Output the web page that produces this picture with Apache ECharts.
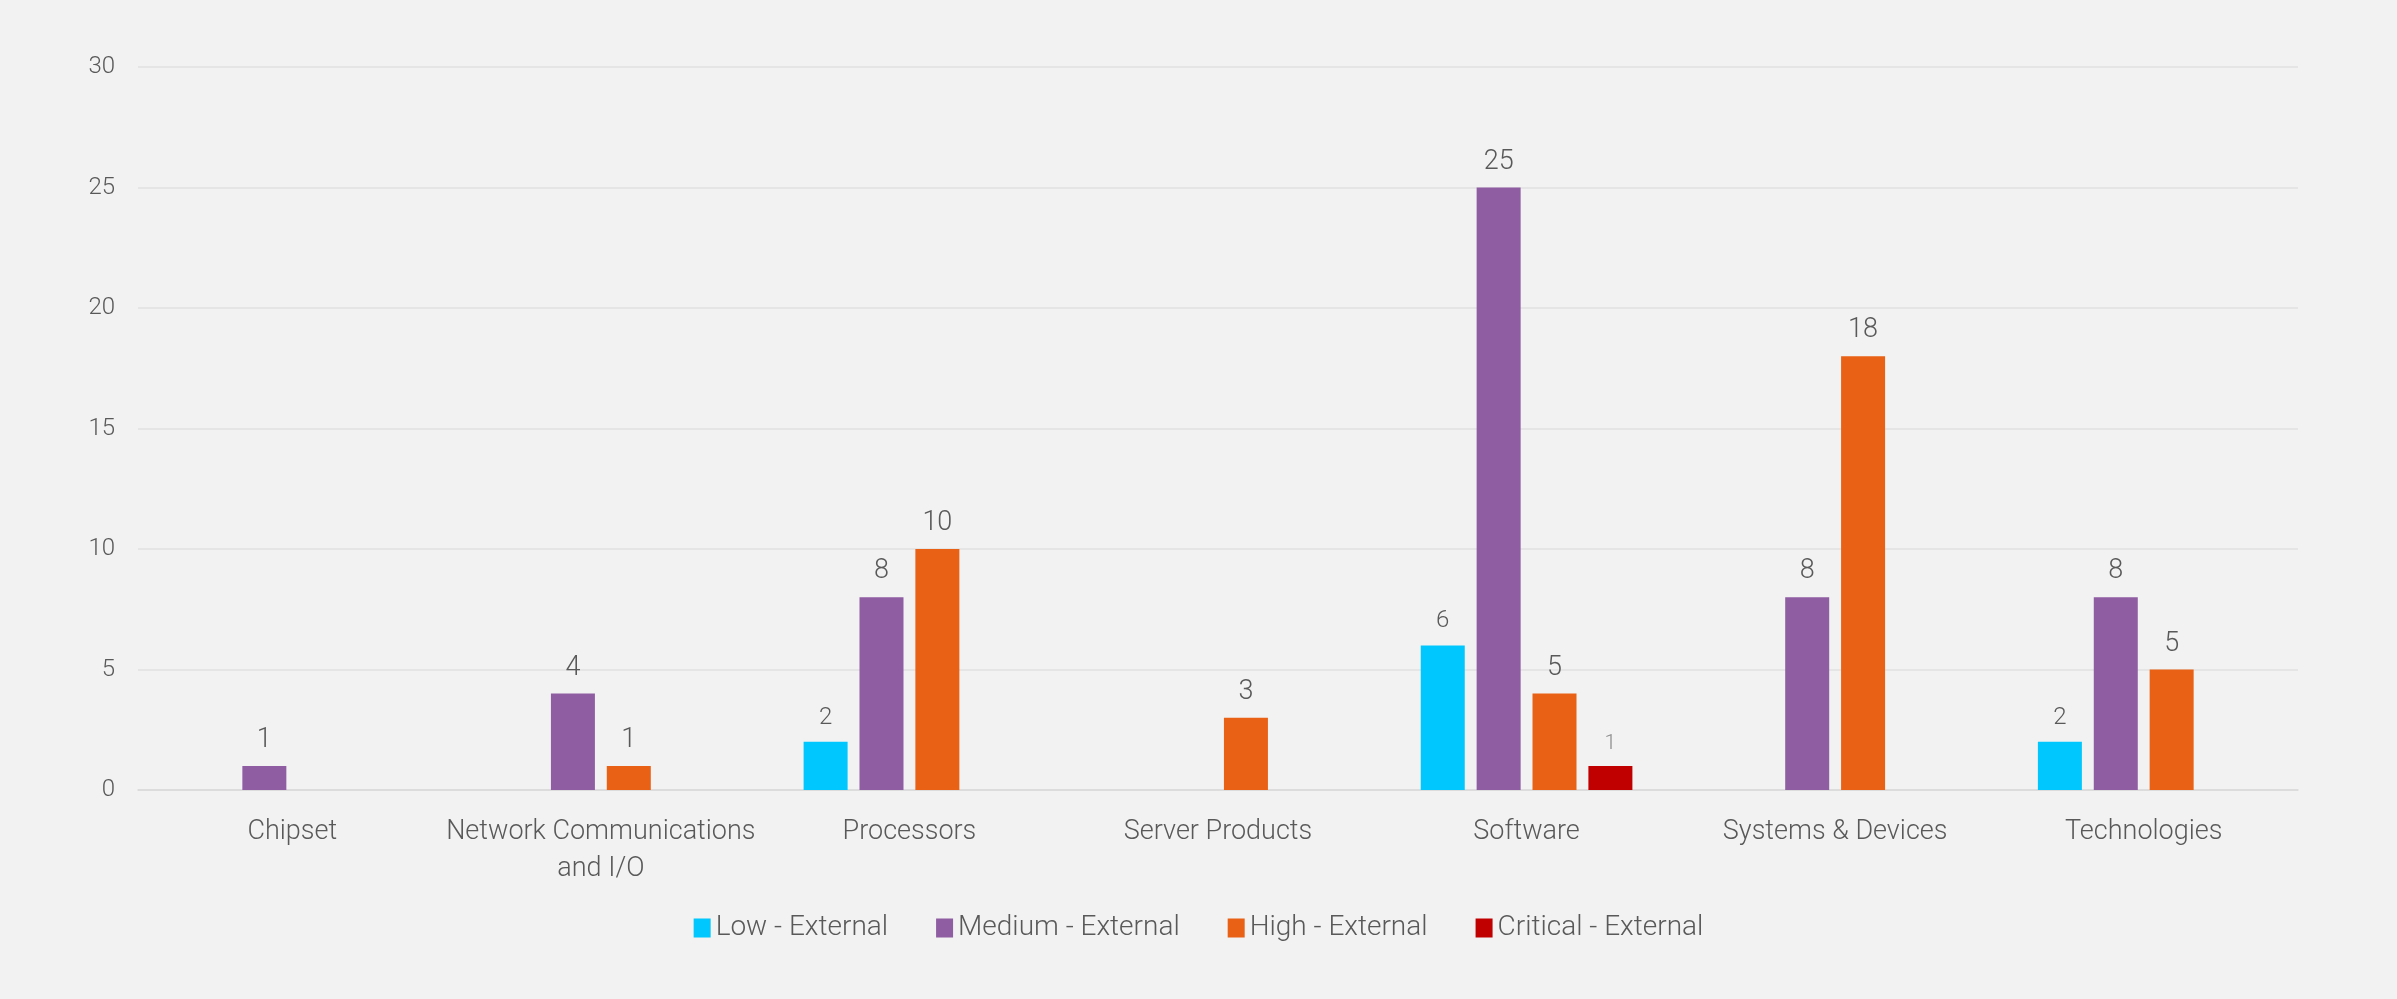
<!DOCTYPE html>
<html>
<head>
<meta charset="utf-8">
<script src="https://cdn.jsdelivr.net/npm/echarts@6/dist/echarts.min.js"></script>
<style>
html,body{margin:0;padding:0;background:#F2F2F2;}
#chart{width:2397px;height:999px;}
</style>
</head>
<body>
<div id="chart"></div>
<script>
const categories = ['Chipset', 'Network Communications\nand I/O', 'Processors', 'Server Products', 'Software', 'Systems & Devices', 'Technologies'];
const seriesNames = ['Low - External', 'Medium - External', 'High - External', 'Critical - External'];
const lowValues = [null, null, 2, null, 6, null, 2];
const mediumValues = [1, 4, 8, null, 25, 8, 8];
const highValues = [null, 1, 10, 3, 4, 18, 5];
const highLabels = [null, '1', '10', '3', '5', '18', '5'];
const criticalValues = [null, null, null, null, 1, null, null];
const yTicks = [0, 5, 10, 15, 20, 25, 30];

const colors = ['#00C7FD', '#8F5DA2', '#E96115', '#C00000'];
const FONT = 'Roboto';
const TXT = '#595959';

function labelCfg(extra) {
  return Object.assign({
    show: true, position: 'top', distance: 12,
    fontFamily: FONT, fontWeight: 300, fontSize: 27, color: TXT
  }, extra || {});
}

const chart = echarts.init(document.getElementById('chart'), null, {renderer: 'canvas'});
chart.setOption({
  backgroundColor: '#F2F2F2',
  animation: false,
  color: colors,
  textStyle: {fontFamily: FONT},
  grid: {left: 138, right: 99, top: 67, bottom: 209, containLabel: false},
  legend: {
    bottom: 52, left: 'center',
    itemWidth: 17, itemHeight: 19, itemGap: 48,
    icon: 'rect',
    textStyle: {fontFamily: FONT, fontWeight: 300, fontSize: 28, color: TXT, padding: [0, 0, 0, 0]},
    data: seriesNames
  },
  xAxis: {
    type: 'category', data: categories,
    axisLine: {show: true, lineStyle: {color: '#D9D9D9', width: 1.5}},
    axisTick: {show: false},
    axisLabel: {fontFamily: FONT, fontWeight: 300, fontSize: 27, color: TXT, margin: 24, lineHeight: 37, interval: 0}
  },
  yAxis: {
    type: 'value', min: yTicks[0], max: yTicks[yTicks.length - 1], interval: 5,
    axisLine: {show: false}, axisTick: {show: false},
    splitLine: {lineStyle: {color: '#E0E0E0', width: 1.5}},
    axisLabel: {fontFamily: FONT, fontWeight: 300, fontSize: 24, color: TXT, margin: 23}
  },
  series: [
    {name: seriesNames[0], type: 'bar', data: lowValues, barWidth: 44, barGap: '27%', barCategoryGap: '31.5%', label: labelCfg({fontSize: 24})},
    {name: seriesNames[1], type: 'bar', data: mediumValues, barWidth: 44, barGap: '27%', label: labelCfg()},
    {name: seriesNames[2], type: 'bar', data: highValues, barWidth: 44, barGap: '27%', label: labelCfg({formatter: p => highLabels[p.dataIndex]})},
    {name: seriesNames[3], type: 'bar', data: criticalValues, barWidth: 44, barGap: '27%', label: labelCfg({fontSize: 21, color: '#8C8C8C'})}
  ]
});
</script>
</body>
</html>
